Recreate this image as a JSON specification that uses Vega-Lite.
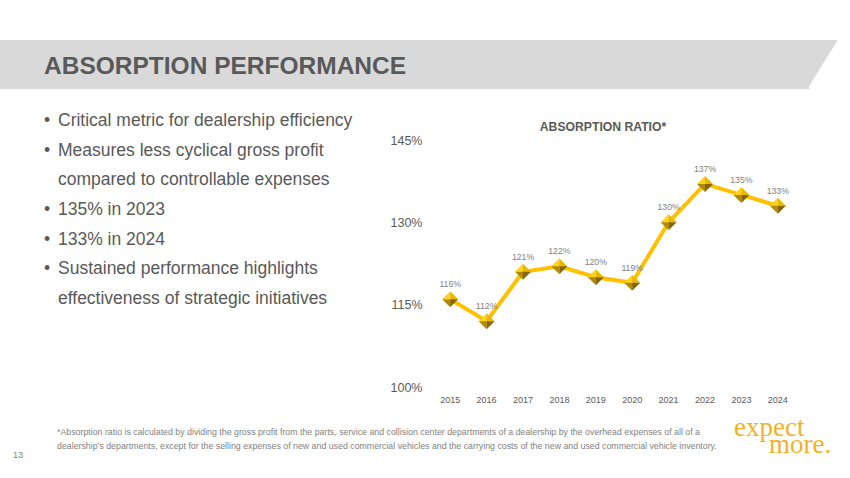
{
  "$schema": "https://vega.github.io/schema/vega-lite/v6.json",
  "background": "white",
  "autosize": "none",
  "width": 364,
  "height": 247,
  "padding": {"left": 432, "top": 140, "right": 54, "bottom": 91},
  "config": {
    "view": {"stroke": null},
    "font": "Liberation Sans, Arial, sans-serif"
  },
  "layer": [
    {
      "data": {"values": [{}]},
      "layer": [
        {
          "mark": {"type": "rect", "x": -432, "x2": 377, "y": -100, "y2": -51, "fill": "#d9d9d9"},
          "encoding": {}
        },
        {
          "mark": {"type": "point", "shape": "M-0.64,-1L0.6,-1L-0.64,1Z", "filled": true, "fill": "#d9d9d9", "opacity": 1, "strokeWidth": 0, "size": 2401, "x": 391, "y": -75.5},
          "encoding": {}
        },
        {
          "mark": {"type": "text", "x": -388, "y": -66.5, "align": "left", "baseline": "alphabetic", "font": "Liberation Sans, Arial, sans-serif", "fontWeight": "bold", "fontSize": 24.5, "color": "#595959", "text": "ABSORPTION PERFORMANCE"},
          "encoding": {}
        },
        {
          "mark": {"type": "text", "x": 171, "y": -9.5, "align": "center", "baseline": "alphabetic", "font": "Liberation Sans, Arial, sans-serif", "fontWeight": "bold", "fontSize": 12.2, "color": "#595959", "text": "ABSORPTION RATIO*"},
          "encoding": {}
        },
        {
          "mark": {"type": "text", "x": -375, "y": 292, "align": "left", "baseline": "middle", "fontSize": 8.8, "color": "#7f7f7f",
            "text": "*Absorption ratio is calculated by dividing the gross profit from the parts, service and collision center departments of a dealership by the overhead expenses of all of a"},
          "encoding": {}
        },
        {
          "mark": {"type": "text", "x": -375, "y": 306, "align": "left", "baseline": "middle", "fontSize": 8.8, "color": "#7f7f7f",
            "text": "dealership’s departments, except  for the selling expenses of new and used commercial vehicles and the carrying costs of the new and used commercial vehicle inventory."},
          "encoding": {}
        },
        {
          "mark": {"type": "text", "x": -419, "y": 315, "align": "left", "baseline": "middle", "fontSize": 9, "color": "#7f7f7f", "text": "13"},
          "encoding": {}
        },
        {
          "mark": {"type": "text", "x": 302, "y": 296, "align": "left", "baseline": "alphabetic", "font": "Liberation Serif, serif", "fontSize": 27, "color": "#F2B124", "text": "expect"},
          "encoding": {}
        },
        {
          "mark": {"type": "text", "x": 337, "y": 313, "align": "left", "baseline": "alphabetic", "font": "Liberation Serif, serif", "fontSize": 27, "color": "#F2B124", "text": "more."},
          "encoding": {}
        }
      ]
    },
    {
      "data": {
        "values": [
          {"line": 1, "bullet": "•", "text": "Critical metric for dealership efficiency"},
          {"line": 2, "bullet": "•", "text": "Measures less cyclical gross profit"},
          {"line": 3, "bullet": "", "text": "compared to controllable expenses"},
          {"line": 4, "bullet": "•", "text": "135% in 2023"},
          {"line": 5, "bullet": "•", "text": "133% in 2024"},
          {"line": 6, "bullet": "•", "text": "Sustained performance highlights"},
          {"line": 7, "bullet": "", "text": "effectiveness of strategic initiatives"}
        ]
      },
      "encoding": {
        "y": {"field": "line", "type": "ordinal", "scale": {"type": "point", "range": [-19, 159], "padding": 0}, "axis": null}
      },
      "layer": [
        {
          "mark": {"type": "text", "x": -388, "align": "left", "baseline": "middle", "fontSize": 17.5, "color": "#595959"},
          "encoding": {"text": {"field": "bullet"}}
        },
        {
          "mark": {"type": "text", "x": -374, "align": "left", "baseline": "middle", "fontSize": 17.5, "color": "#595959"},
          "encoding": {"text": {"field": "text"}}
        }
      ]
    },
    {
      "data": {
        "values": [
          {"year": "2015", "ratio": 1.16},
          {"year": "2016", "ratio": 1.12},
          {"year": "2017", "ratio": 1.21},
          {"year": "2018", "ratio": 1.22},
          {"year": "2019", "ratio": 1.20},
          {"year": "2020", "ratio": 1.19},
          {"year": "2021", "ratio": 1.30},
          {"year": "2022", "ratio": 1.37},
          {"year": "2023", "ratio": 1.35},
          {"year": "2024", "ratio": 1.33}
        ]
      },
      "encoding": {
        "x": {
          "field": "year", "type": "ordinal",
          "scale": {"type": "band", "paddingInner": 0, "paddingOuter": 0},
          "axis": {"title": null, "labelAngle": 0, "domain": false, "ticks": false, "labelPadding": 8, "labelFontSize": 9, "labelColor": "#595959"}
        },
        "y": {
          "field": "ratio", "type": "quantitative",
          "scale": {"domain": [1.0, 1.45], "zero": false, "nice": false},
          "axis": {"orient": "left", "title": null, "values": [1.0, 1.15, 1.3, 1.45], "format": ".0%", "domain": false, "ticks": false, "labelPadding": 10, "labelFontSize": 12.5, "labelColor": "#595959", "gridColor": "#d9d9d9", "gridWidth": 1}
        }
      },
      "layer": [
        {"mark": {"type": "line", "color": "#FFC000", "strokeWidth": 4}},
        {"mark": {"type": "point", "shape": "M-1,0L0,-1L0,0Z", "filled": true, "fill": "#FFD21F", "opacity": 1, "strokeWidth": 0, "size": 256}},
        {"mark": {"type": "point", "shape": "M0,-1L1,0L0,0Z", "filled": true, "fill": "#E9B800", "opacity": 1, "strokeWidth": 0, "size": 256}},
        {"mark": {"type": "point", "shape": "M-1,0L0,0L0,1Z", "filled": true, "fill": "#B08A05", "opacity": 1, "strokeWidth": 0, "size": 256}},
        {"mark": {"type": "point", "shape": "M0,0L1,0L0,1Z", "filled": true, "fill": "#85670A", "opacity": 1, "strokeWidth": 0, "size": 256}},
        {
          "mark": {"type": "text", "dy": -15, "baseline": "middle", "fontSize": 8.7, "color": "#7f7f7f"},
          "encoding": {"text": {"field": "ratio", "type": "quantitative", "format": ".0%"}}
        }
      ]
    }
  ],
  "resolve": {"scale": {"y": "independent"}}
}
